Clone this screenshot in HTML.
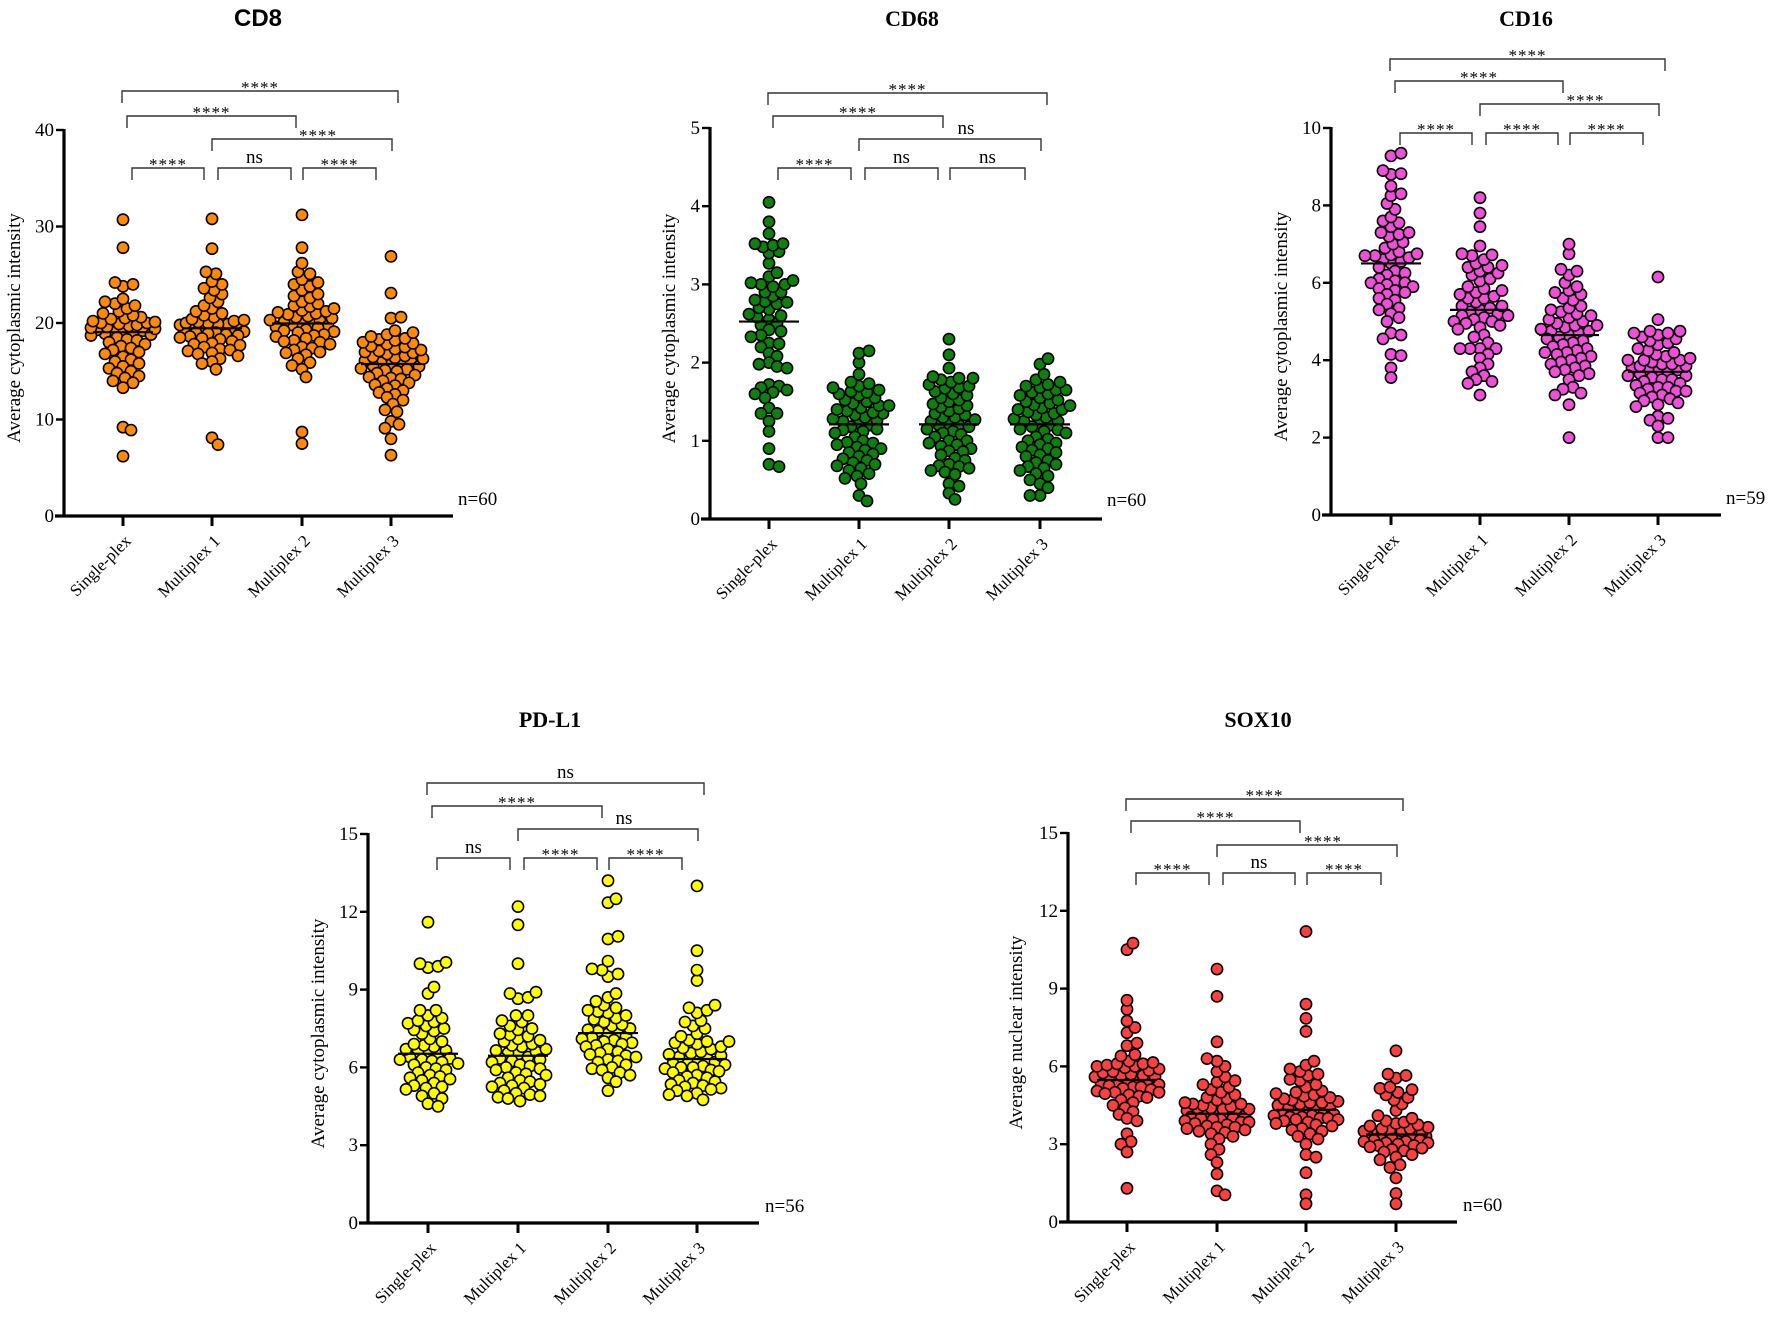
<!DOCTYPE html>
<html><head><meta charset="utf-8"><style>
html,body{margin:0;padding:0;background:#fff;}
svg{display:block;}
text{font-family:"Liberation Serif",serif;fill:#000;}
</style></head><body>
<svg id="fig" width="1772" height="1320" viewBox="0 0 1772 1320" xmlns="http://www.w3.org/2000/svg"></svg>
<script>
// ---------- data ----------
const categories = ["Single-plex","Multiplex 1","Multiplex 2","Multiplex 3"];

const cd8Single = [30.7,27.8,24.2,24.0,23.8,22.5,22.2,22.0,21.8,21.5,21.2,21.0,20.8,20.6,20.5,20.4,20.2,20.1,20.0,20.0,19.9,19.8,19.7,19.6,19.5,19.4,19.3,19.2,19.1,19.0,18.9,18.7,18.5,18.3,18.2,18.0,17.8,17.6,17.4,17.2,17.0,16.8,16.5,16.2,16.0,15.8,15.5,15.3,15.0,14.8,14.5,14.3,14.0,13.8,13.3,9.2,8.9,6.2,19.2,18.8];
const cd8M1 = [30.8,27.7,25.3,25.1,24.3,24.0,23.6,23.4,23.0,22.6,22.2,21.8,21.5,21.2,21.0,20.8,20.6,20.4,20.2,20.1,20.0,20.0,19.9,19.8,19.7,19.6,19.5,19.4,19.3,19.2,19.1,19.0,18.9,18.8,18.7,18.6,18.5,18.3,18.1,17.9,17.7,17.5,17.3,17.1,16.9,16.6,16.3,16.0,15.8,15.2,8.1,7.4,20.3,19.9,19.5,19.0,18.4,17.8,17.2,16.8];
const cd8M2 = [31.2,27.8,26.2,25.3,25.1,24.5,24.2,24.0,23.4,23.0,22.6,22.2,22.0,21.7,21.5,21.3,21.1,21.0,20.9,20.7,20.5,20.3,20.2,20.0,19.9,19.8,19.6,19.5,19.3,19.1,19.0,18.8,18.6,18.4,18.2,18.0,17.8,17.5,17.2,17.0,16.7,16.3,15.9,15.6,15.2,14.4,8.7,7.5,21.8,21.2,20.6,20.1,19.7,19.2,18.7,18.1,17.4,16.9,22.8,23.8];
const cd8M3 = [26.9,23.1,20.6,20.5,19.2,19.0,18.8,18.6,18.4,18.3,18.2,18.0,17.8,17.6,17.5,17.3,17.1,17.0,16.8,16.6,16.5,16.3,16.1,16.0,15.9,15.7,15.5,15.3,15.2,15.0,14.8,14.6,14.4,14.2,14.0,13.8,13.5,13.2,13.0,12.6,12.3,12.0,11.6,11.0,10.8,9.8,9.5,9.1,8.0,6.3,17.9,17.2,16.4,15.8,15.1,14.3,13.6,12.8,16.9,15.6];

const cd68Single = [4.05,3.8,3.65,3.52,3.52,3.5,3.48,3.42,3.4,3.27,3.15,3.05,3.02,3.0,3.0,2.97,2.9,2.9,2.8,2.78,2.77,2.75,2.7,2.68,2.6,2.58,2.55,2.5,2.48,2.42,2.4,2.35,2.33,2.25,2.24,2.2,2.12,2.08,2.0,1.98,1.95,1.93,1.72,1.7,1.68,1.65,1.62,1.6,1.55,1.42,1.35,1.35,1.25,1.12,0.9,0.7,0.67,2.62,2.85,3.1];
const cd68M1 = [2.15,2.12,2.0,1.85,1.75,1.73,1.7,1.68,1.65,1.63,1.6,1.58,1.55,1.5,1.48,1.45,1.42,1.4,1.38,1.35,1.33,1.3,1.28,1.25,1.22,1.2,1.18,1.15,1.12,1.1,1.05,1.0,0.98,0.95,0.92,0.9,0.88,0.85,0.8,0.77,0.75,0.72,0.7,0.65,0.62,0.58,0.55,0.52,0.45,0.3,0.23,1.52,1.36,1.26,1.14,0.97,0.83,0.68,1.45,1.62];
const cd68M2 = [2.3,2.1,1.93,1.82,1.8,1.8,1.78,1.75,1.72,1.7,1.67,1.63,1.6,1.55,1.52,1.47,1.45,1.43,1.38,1.35,1.33,1.3,1.27,1.25,1.22,1.2,1.2,1.15,1.12,1.1,1.08,1.0,0.97,0.95,0.93,0.9,0.87,0.82,0.75,0.7,0.68,0.67,0.65,0.6,0.57,0.45,0.42,0.33,0.25,1.68,1.41,1.18,1.05,0.86,0.62,1.5,1.3,1.0,0.78,1.58];
const cd68M3 = [2.05,1.98,1.85,1.78,1.75,1.72,1.7,1.68,1.65,1.62,1.58,1.55,1.52,1.5,1.48,1.45,1.42,1.4,1.37,1.35,1.3,1.28,1.25,1.22,1.2,1.18,1.15,1.12,1.1,1.05,1.02,1.0,0.95,0.92,0.88,0.85,0.82,0.8,0.75,0.7,0.67,0.65,0.62,0.58,0.55,0.5,0.45,0.4,0.3,0.3,1.6,1.33,1.14,0.97,0.72,1.46,1.25,0.9,1.65,1.4];

const cd16Single = [9.35,9.28,8.9,8.82,8.8,8.5,8.3,8.25,8.05,7.9,7.6,7.55,7.3,7.3,7.25,7.2,7.05,7.0,6.8,6.75,6.72,6.7,6.7,6.65,6.6,6.55,6.5,6.3,6.25,6.2,6.1,6.05,6.0,5.95,5.9,5.85,5.8,5.75,5.7,5.6,5.55,5.45,5.35,5.2,5.1,5.0,4.7,4.65,4.55,4.15,4.12,3.8,3.55,6.9,7.45,6.4,5.3,7.7,6.0];
const cd16M1 = [8.2,7.8,7.45,6.95,6.75,6.72,6.7,6.6,6.5,6.45,6.4,6.4,6.25,6.2,6.1,6.05,5.9,5.85,5.8,5.7,5.65,5.6,5.6,5.5,5.4,5.4,5.35,5.3,5.2,5.15,5.15,5.1,5.05,5.0,4.95,4.9,4.85,4.8,4.65,4.45,4.3,4.3,4.3,4.3,4.05,3.9,3.8,3.6,3.5,3.45,3.4,3.1,5.75,5.25,4.6,6.3,5.0,4.15,3.7];
const cd16M2 = [7.0,6.75,6.35,6.3,6.2,6.0,5.9,5.75,5.7,5.6,5.55,5.4,5.35,5.3,5.2,5.15,5.1,5.0,4.95,4.9,4.9,4.85,4.8,4.75,4.7,4.65,4.6,4.55,4.45,4.4,4.3,4.25,4.2,4.15,4.1,4.05,4.0,3.9,3.85,3.8,3.75,3.65,3.6,3.5,3.3,3.25,3.15,3.1,2.85,2.0,5.05,4.35,3.95,4.5,5.25,4.75,3.7,5.8,4.2];
const cd16M3 = [6.15,5.05,4.75,4.75,4.7,4.7,4.65,4.6,4.55,4.5,4.4,4.3,4.25,4.2,4.1,4.05,4.0,4.0,3.95,3.9,3.85,3.85,3.8,3.75,3.7,3.65,3.6,3.55,3.5,3.5,3.45,3.4,3.35,3.3,3.25,3.2,3.15,3.1,3.05,3.0,2.9,2.85,2.8,2.55,2.5,2.45,2.3,2.0,2.0,3.7,4.15,3.3,2.95,4.45,3.6,3.9,3.2,4.0,3.75];

const pdl1Single = [11.6,10.05,10.0,9.9,9.85,9.1,8.85,8.2,8.2,8.0,7.9,7.8,7.75,7.7,7.5,7.45,7.4,7.3,7.0,6.9,6.85,6.7,6.65,6.6,6.5,6.4,6.35,6.3,6.3,6.2,6.15,6.1,6.0,5.9,5.8,5.7,5.65,5.6,5.55,5.5,5.3,5.25,5.2,5.15,5.0,4.9,4.8,4.6,4.5,6.55,7.1,5.95,6.8,7.6,5.4,6.25];
const pdl1M1 = [12.2,11.5,10.0,8.9,8.85,8.7,8.65,8.0,8.0,7.75,7.6,7.5,7.3,7.25,7.2,7.1,7.0,6.9,6.8,6.7,6.6,6.55,6.5,6.4,6.3,6.25,6.2,6.1,6.0,5.95,5.9,5.8,5.7,5.6,5.5,5.4,5.3,5.2,5.1,5.0,4.95,4.85,4.8,4.7,7.8,6.85,6.35,5.75,5.25,7.45,6.05,5.45,6.65,7.05,4.9,5.35];
const pdl1M2 = [13.2,12.5,12.35,11.05,10.95,10.1,9.8,9.75,9.6,9.5,8.85,8.7,8.55,8.3,8.2,8.15,8.1,7.9,7.85,7.75,7.6,7.5,7.4,7.3,7.2,7.1,7.0,6.95,6.9,6.8,6.7,6.6,6.5,6.4,6.3,6.2,6.1,6.0,5.9,5.8,5.7,5.6,5.45,5.1,7.65,7.05,6.55,6.25,7.35,8.0,6.85,5.95,7.45,6.45,8.4,7.15];
const pdl1M3 = [13.0,10.5,9.75,9.35,8.4,8.3,8.1,7.8,7.75,7.5,7.3,7.2,7.0,7.0,6.95,6.9,6.8,6.7,6.6,6.5,6.45,6.4,6.3,6.25,6.2,6.1,6.05,6.0,5.95,5.9,5.8,5.7,5.6,5.5,5.4,5.3,5.25,5.2,5.1,5.0,4.95,4.9,4.75,6.55,6.35,5.85,7.6,6.15,5.65,5.35,7.05,6.75,5.15,8.2,6.0,5.45];

const sox10Single = [10.75,10.5,8.55,8.2,7.75,7.5,7.3,6.9,6.8,6.45,6.4,6.2,6.15,6.1,6.1,6.05,6.0,5.95,5.85,5.8,5.75,5.7,5.65,5.6,5.55,5.5,5.45,5.4,5.4,5.35,5.3,5.25,5.2,5.15,5.1,5.0,5.0,4.95,4.9,4.8,4.7,4.6,4.4,4.25,4.15,4.0,3.9,3.4,3.1,3.0,2.7,1.3,5.9,5.6,5.2,4.5,5.65,6.0,5.05,4.85];
const sox10M1 = [9.75,8.7,6.95,6.3,6.2,6.0,5.8,5.6,5.4,5.3,5.2,5.1,5.0,4.9,4.8,4.7,4.6,4.55,4.5,4.45,4.4,4.35,4.3,4.25,4.2,4.15,4.1,4.05,4.0,4.0,3.95,3.9,3.85,3.8,3.75,3.7,3.65,3.6,3.55,3.5,3.45,3.4,3.3,3.2,3.0,2.8,2.6,2.3,1.85,1.2,1.05,4.75,4.35,3.85,4.15,5.45,3.65,4.55,3.95,4.25];
const sox10M2 = [11.2,8.4,7.85,7.35,6.2,6.05,5.9,5.8,5.7,5.5,5.3,5.2,5.05,5.0,4.95,4.9,4.85,4.8,4.7,4.65,4.6,4.5,4.4,4.3,4.2,4.15,4.1,4.1,4.05,4.0,4.0,3.95,3.9,3.85,3.8,3.7,3.6,3.5,3.4,3.3,3.2,3.0,2.6,2.5,1.9,1.05,0.7,4.75,4.25,3.95,4.45,5.45,4.05,3.75,4.55,5.65,4.35,3.55,4.15,4.6];
const sox10M3 = [6.6,5.7,5.65,5.55,5.2,5.15,5.1,5.0,4.8,4.7,4.3,4.1,4.0,3.9,3.85,3.8,3.7,3.65,3.6,3.55,3.5,3.45,3.4,3.35,3.3,3.3,3.25,3.2,3.15,3.1,3.1,3.05,3.0,2.95,2.9,2.8,2.75,2.7,2.6,2.5,2.4,2.2,2.1,1.7,1.1,0.7,3.35,3.6,3.2,2.85,3.45,3.05,4.55,3.75,3.25,2.95,3.5,4.9,3.15,3.4];

const cd8Ticks = [0,10,20,30,40];
const cd68Ticks = [0,1,2,3,4,5];
const cd16Ticks = [0,2,4,6,8,10];
const pdl1Ticks = [0,3,6,9,12,15];
const sox10Ticks = [0,3,6,9,12,15];

const cd8Sig = ["****","****","****","****","ns","****"];
const cd68Sig = ["****","****","ns","****","ns","ns"];
const cd16Sig = ["****","****","****","****","****","****"];
const pdl1Sig = ["ns","****","ns","ns","****","****"];
const sox10Sig = ["****","****","****","****","ns","****"];

const nLabels = ["n=60","n=60","n=59","n=56","n=60"];

// ---------- layout ----------
const panels = [
 {id:"cd8",title:"CD8",sans:true,tx:258,ty:26,groups:[cd8Single,cd8M1,cd8M2,cd8M3],ticks:cd8Ticks,sig:cd8Sig,
  ax:64,y0:516,yTop:130,xEnd:453,cats:[123,212,302,391],ymax:40,color:"#ff8a0a",ytitle:"Average cytoplasmic intensity",ytx:20,levels:[91,116,139,168],nx:458,ny:505},
 {id:"cd68",title:"CD68",tx:912,ty:26,groups:[cd68Single,cd68M1,cd68M2,cd68M3],ticks:cd68Ticks,sig:cd68Sig,
  ax:710,y0:519,yTop:128,xEnd:1102,cats:[769,859,949,1040],ymax:5,color:"#0f7f0f",ytitle:"Average cytoplasmic intensity",ytx:675,levels:[93,116,139,168],nx:1107,ny:506},
 {id:"cd16",title:"CD16",tx:1526,ty:26,groups:[cd16Single,cd16M1,cd16M2,cd16M3],ticks:cd16Ticks,sig:cd16Sig,
  ax:1331,y0:515,yTop:128,xEnd:1721,cats:[1391,1480,1569,1658],ymax:10,color:"#f050d8",ytitle:"Average cytoplasmic intensity",ytx:1287,levels:[59,81,104,133],nx:1726,ny:504},
 {id:"pdl1",title:"PD-L1",tx:550,ty:727,groups:[pdl1Single,pdl1M1,pdl1M2,pdl1M3],ticks:pdl1Ticks,sig:pdl1Sig,
  ax:368,y0:1223,yTop:834,xEnd:759,cats:[428,518,608,697],ymax:15,color:"#ffff00",ytitle:"Average cytoplasmic intensity",ytx:324,levels:[783,806,829,858],nx:765,ny:1212},
 {id:"sox10",title:"SOX10",tx:1258,ty:727,groups:[sox10Single,sox10M1,sox10M2,sox10M3],ticks:sox10Ticks,sig:sox10Sig,
  ax:1068,y0:1222,yTop:833,xEnd:1457,cats:[1127,1217,1306,1396],ymax:15,color:"#ff4040",ytitle:"Average nuclear intensity",ytx:1022,levels:[799,821,845,873],nx:1463,ny:1211}
];

const NS="http://www.w3.org/2000/svg";
const svg=document.getElementById("fig");
function mk(tag,attrs,parent){const e=document.createElementNS(NS,tag);for(const k in attrs)e.setAttribute(k,attrs[k]);(parent||svg).appendChild(e);return e;}
function median(a){const s=[...a].sort((x,y)=>x-y);const n=s.length;return n%2?s[(n-1)/2]:(s[n/2-1]+s[n/2])/2;}

panels.forEach((p,pi)=>{
  const g=mk("g",{});
  
  
  const yScale=v=>p.y0-(v/p.ymax)*(p.y0-p.yTop);
  const t=mk("text",{x:p.tx,y:p.ty,"text-anchor":"middle","font-size":p.sans?"24":"22","font-weight":"bold"},g);
  if(p.sans)t.setAttribute("style","font-family:'Liberation Sans',sans-serif");
  t.textContent=p.title;
  
  
  const yt=mk("text",{x:0,y:0,"text-anchor":"middle","font-size":"19",transform:`translate(${p.ytx},${(p.y0+p.yTop)/2+5}) rotate(-90)`},g);
  yt.textContent=p.ytitle;
  
  
  // points (compact swarm, limited width, overlap allowed)
  const r=5.6, minD=8.5, maxOff=32;
  p.groups.forEach((vals,gi)=>{
    const cx=p.cats[gi];
    const med=median(vals);
    const order=vals.map((v,i)=>i).sort((a,b)=>Math.abs(vals[a]-med)-Math.abs(vals[b]-med));
    const placed=[];
    const cands=[0];
    for(let o=2;o<=maxOff;o+=2){cands.push(o,-o);}
    order.forEach(i=>{
      const cy=yScale(vals[i]);
      let chosen=null,bestOff=0,bestMin=-1;
      for(const off of cands){
        let mn=1e9;
        for(const q of placed){const dx=q[0]-(cx+off),dy=q[1]-cy;const d=Math.sqrt(dx*dx+dy*dy);if(d<mn)mn=d;}
        if(mn>=minD){chosen=off;break;}
        if(mn>bestMin){bestMin=mn;bestOff=off;}
      }
      if(chosen===null)chosen=bestOff;
      placed.push([cx+chosen,cy]);
    });
    placed.forEach(([x,y])=>{
      const c=mk("circle",{cx:x.toFixed(1),cy:y.toFixed(1),r:r,fill:p.color,stroke:"#000","stroke-width":"1.6"},g);
      
      
    });
    const m=yScale(med);
    const ml=mk("line",{x1:cx-30,x2:cx+30,y1:m,y2:m,stroke:"#000","stroke-width":"2.2"},g);
    
    
  });
  const ya=mk("line",{x1:p.ax,x2:p.ax,y1:p.yTop-1,y2:p.y0+1.5,stroke:"#000","stroke-width":"3.2"},g);
  
  
  const xa=mk("line",{x1:p.ax-9,x2:p.xEnd,y1:p.y0,y2:p.y0,stroke:"#000","stroke-width":"3.2"},g);
  
  
  p.ticks.forEach(tv=>{
    const y=yScale(tv);
    mk("line",{x1:p.ax-8,x2:p.ax,y1:y,y2:y,stroke:"#000","stroke-width":"2.4"},g);
    const tl=mk("text",{x:p.ax-10,y:y+6,"text-anchor":"end","font-size":"19"},g);
    tl.textContent=tv;
    
    
  });
  p.cats.forEach((cx,ci)=>{
    mk("line",{x1:cx,x2:cx,y1:p.y0,y2:p.y0+10,stroke:"#000","stroke-width":"3"},g);
    const xl=mk("text",{x:0,y:0,"text-anchor":"end","font-size":"17",transform:`translate(${cx+9},${p.y0+26}) rotate(-45)`},g);
    xl.textContent=categories[ci];
    
    
  });
  const nl=mk("text",{x:p.nx,y:p.ny,"font-size":"19"},g);
  nl.textContent=nLabels[pi];
  
  
  const c=p.cats;
  const br=[
    [c[0]-1,c[3]+7,p.levels[0],0],
    [c[0]+4,c[2]-6,p.levels[1],0],
    [c[1],c[3]+1,p.levels[2],16],
    [c[0]+9,c[1]-8,p.levels[3],0],
    [c[1]+6,c[2]-11,p.levels[3],0],
    [c[2]+1,c[3]-15,p.levels[3],0]
  ];
  br.forEach((b,bi)=>{
    const pth=mk("path",{d:`M${b[0]},${b[2]+12}V${b[2]}H${b[1]}V${b[2]+12}`,fill:"none",stroke:"#333","stroke-width":"1.4"},g);
    
    
    const lab=p.sig[bi];
    const isNs=lab==="ns";
    const st=mk("text",{x:(b[0]+b[1])/2+b[3],y:isNs?b[2]-5:b[2]+2,"text-anchor":"middle","font-size":isNs?"19":"17","letter-spacing":isNs?"0":"1"},g);
    st.textContent=lab;
    
    
  });
});
</script>
</body></html>
